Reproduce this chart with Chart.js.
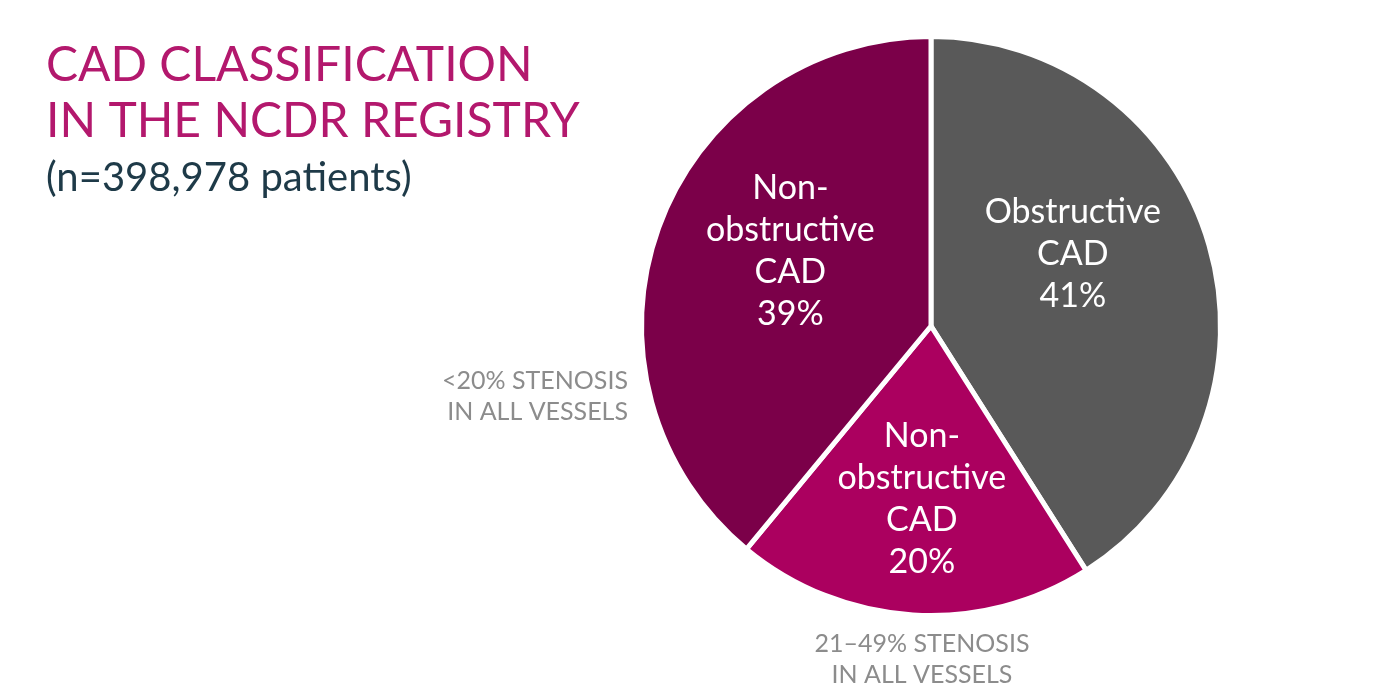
<!DOCTYPE html>
<html>
<head>
<meta charset="utf-8">
<script src="https://cdn.jsdelivr.net/npm/chart.js@4/dist/chart.umd.min.js"></script>
<style>
  html, body { margin: 0; padding: 0; background: #fff; }
  #wrap { width: 1400px; height: 700px; position: relative; }
</style>
</head>
<body>
<div id="wrap"><canvas id="chart" width="1400" height="700"></canvas></div>
<script>
// data
const CATEGORIES = ["Obstructive CAD", "Non-obstructive CAD (21–49%)", "Non-obstructive CAD (<20%)"];
const VALUES = [41, 20, 39];
const COLORS = ["#595959", "#ab005f", "#7b0049"];
const SLICE_LABELS = [
  ["Obstructive", "CAD", "41%"],
  ["Non-", "obstructive", "CAD", "20%"],
  ["Non-", "obstructive", "CAD", "39%"]
];
// label anchor: angle from top (deg, clockwise), fraction of radius
const LABEL_POS = [[63, 0.55], [183, 0.6], [298, 0.55]];

const FONT = "Lato, 'Open Sans', sans-serif";

const textPlugin = {
  id: "texts",
  afterDraw(chart) {
    const c = chart.ctx;
    const arcs = chart.getDatasetMeta(0).data;
    c.save();
    c.textBaseline = "middle";

    // slice labels
    c.fillStyle = "#fff";
    c.textAlign = "center";
    c.font = "34px " + FONT;
    arcs.forEach((a, i) => {
      const [deg, f] = LABEL_POS[i];
      const rad = (deg - 90) * Math.PI / 180;
      const r = a.outerRadius * f;
      const cx = a.x + Math.cos(rad) * r;
      const cy = a.y + Math.sin(rad) * r;
      const lines = SLICE_LABELS[i];
      const lh = 42;
      lines.forEach((t, j) => {
        c.fillText(t, cx, cy + (j - (lines.length - 1) / 2) * lh);
      });
    });

    // title
    c.textAlign = "left";
    c.fillStyle = "#b3186d";
    c.font = "48px " + FONT;
    c.fillText("CAD CLASSIFICATION", 46, 66);
    c.fillText("IN THE NCDR REGISTRY", 46, 122);
    c.fillStyle = "#1e3a48";
    c.font = "40px " + FONT;
    c.fillText("(n=398,978 patients)", 46, 178);

    // annotations
    c.fillStyle = "#8c8c8c";
    c.font = "25px " + FONT;
    c.textAlign = "right";
    c.fillText("<20% STENOSIS", 628, 381);
    c.fillText("IN ALL VESSELS", 628, 412);
    c.textAlign = "center";
    c.fillText("21–49% STENOSIS", 922, 644);
    c.fillText("IN ALL VESSELS", 922, 675);
    c.restore();
  }
};

new Chart(document.getElementById("chart"), {
  type: "pie",
  data: {
    labels: CATEGORIES,
    datasets: [{
      data: VALUES,
      backgroundColor: COLORS,
      borderColor: "#ffffff",
      borderWidth: 5
    }]
  },
  options: {
    responsive: false,
    animation: false,
    layout: { padding: { left: 639, right: 177, top: 34, bottom: 82 } },
    plugins: { legend: { display: false }, tooltip: { enabled: false } }
  },
  plugins: [textPlugin]
});
</script>
</body>
</html>
